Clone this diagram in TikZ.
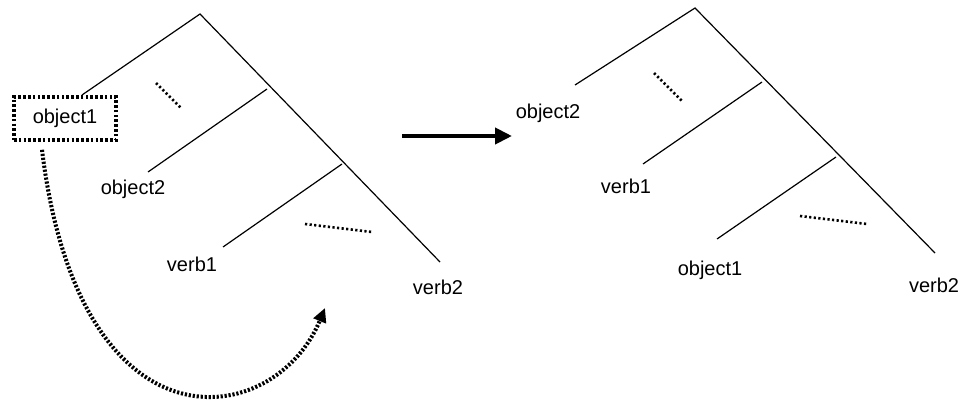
\documentclass[tikz,border=0pt]{standalone}
\usepackage{fontspec}
\setmainfont{Liberation Sans}
\usetikzlibrary{positioning,arrows.meta}
\tikzset{branch/.style={line width=1.2pt}}
\tikzset{gap/.style={line width=2.6pt, dash pattern=on 2.2pt off 2.4pt}}
\tikzset{moved/.style={draw, line width=3.6pt, dash pattern=on 2.6pt off 2.2pt, minimum width=102pt, minimum height=43pt}}
\tikzset{hop/.style={line width=4pt, dash pattern=on 2.2pt off 1.8pt}}

\begin{document}
\begin{tikzpicture}[x=1pt, y=-1pt, every node/.style={font=\fontsize{20}{24}\selectfont, inner sep=0pt}]
            \useasboundingbox (0,0) rectangle (965,409);

            % tree before the move
            \coordinate (la) at (200,14);
            \coordinate (lb) at (440,262);
            \coordinate (l1) at (82,95);
            \coordinate (l2t) at (267,89);
            \coordinate (l2b) at (148,172);
            \coordinate (l3t) at (342,164);
            \coordinate (l3b) at (223,247);
            \node[moved] (obj1) at (65,118.5) {object1};
            \node (lobj2) at (133,189) {object2};
            \node (lverb1) at (192,264) {verb1};
            \node (lverb2) at (438,287) {verb2};

            \draw[branch] (l1) -- (la) -- (lb);
            \draw[branch] (l2t) -- (l2b);
            \draw[branch] (l3t) -- (l3b);
            \draw[gap] (156,83) -- (182,109);
            \draw[gap] (305,224) -- (372,232);

            % the move
            \coordinate (landing) at (325,308);
            \draw[hop, -{Triangle[length=14pt, width=13pt]}]
                ([xshift=-23pt, yshift=-8pt]obj1.south) .. controls (80,460) and (275,430) .. (landing);

            \coordinate (gostart) at (402,136);
            \coordinate (goend) at (512,136);
            \draw[line width=4pt, -{Triangle[length=17pt, width=16pt]}] (gostart) -- (goend);

            % tree after the move
            \coordinate (ra) at (695,8);
            \coordinate (rb) at (935,253);
            \coordinate (r1) at (575,85);
            \coordinate (r2t) at (762,82);
            \coordinate (r2b) at (643,164);
            \coordinate (r3t) at (836,157);
            \coordinate (r3b) at (717,239);
            \node (robj2) at (548,113) {object2};
            \node (rverb1) at (626,186) {verb1};
            \node (robj1) at (710,270) {object1};
            \node (rverb2) at (934,285) {verb2};

            \draw[branch] (r1) -- (ra) -- (rb);
            \draw[branch] (r2t) -- (r2b);
            \draw[branch] (r3t) -- (r3b);
            \draw[gap] (654,73) -- (683,102);
            \draw[gap] (800,216) -- (867,224);
\end{tikzpicture}
\end{document}
